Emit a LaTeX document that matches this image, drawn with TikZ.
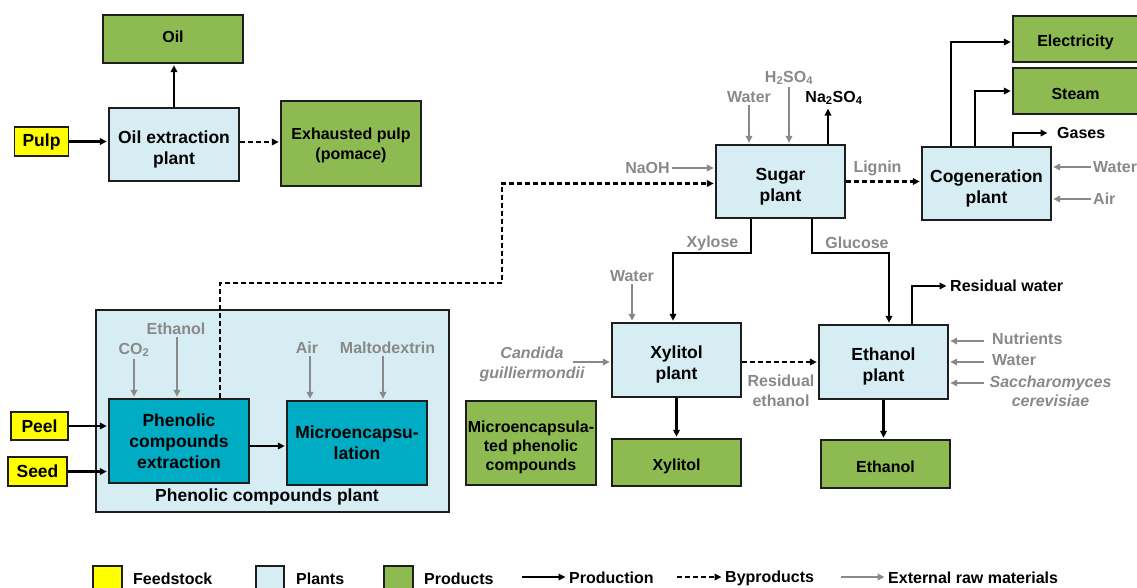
\documentclass[tikz,border=0pt]{standalone}
\usepackage{fontspec}
\setmainfont{Liberation Sans}
\usetikzlibrary{arrows.meta}
\definecolor{feedY}{RGB}{255,255,0}
\definecolor{plantB}{RGB}{215,237,244}
\definecolor{prodG}{RGB}{141,187,82}
\definecolor{tealB}{RGB}{0,171,196}
\definecolor{extG}{RGB}{137,137,137}
\definecolor{edgeC}{RGB}{30,30,30}
\newcommand\figbig{\fontsize{17.5}{21}\selectfont\bfseries}
\newcommand\figmid{\fontsize{16}{19.5}\selectfont\bfseries}
\newcommand\upx[1]{\rule{0pt}{#1}}
\tikzset{
  box/.style={draw=edgeC, line width=1.4pt, inner sep=0pt, align=center},
  feed/.style={box, fill=feedY, font=\figbig},
  plantbox/.style={box, fill=plantB, font=\figbig},
  unitbox/.style={box, fill=tealB, font=\figbig},
  prod/.style={box, fill=prodG, font=\figmid},
  lab/.style={text=extG, font=\figmid, inner sep=2pt, align=center},
  blab/.style={text=black, font=\figmid, inner sep=2pt, align=center},
  prodarr/.style={draw=black, line width=2.2pt, -{Triangle[length=7pt,width=6.5pt]}, shorten >=1.5pt},
  byarr/.style={prodarr, dash pattern=on 5pt off 3pt},
  extarr/.style={draw=extG, line width=2pt, -{Triangle[length=7pt,width=6.5pt]}, shorten >=1.5pt},
}
\begin{document}
\begin{tikzpicture}[x=1pt,y=-1pt]
\useasboundingbox (0,0) rectangle (1137,587);

% ---------- oil branch ----------
\node[feed, minimum width=54pt, minimum height=29pt] (pulp) at (41.5,141.5) {Pulp};
\node[plantbox, minimum width=130pt, minimum height=73pt] (oilx) at (174,144.5) {\upx{22.5pt}Oil extraction\\plant};
\node[prod, text depth=5pt, minimum width=140pt, minimum height=48pt] (oil) at (173,39) {Oil};
\node[prod, minimum width=140pt, minimum height=85pt] (exh) at (351,143.5) {\upx{15.5pt}Exhausted pulp\\(pomace)};
\draw[prodarr] (oilx.north) -- (oilx.north |- oil.south);
\draw[prodarr] (pulp.east) -- (pulp.east -| oilx.west);
\coordinate (oe) at ([yshift=2.5pt]oilx.east);
\draw[byarr] (oe) -- (oe -| exh.west);

% ---------- sugar and cogeneration ----------
\node[plantbox, minimum width=129pt, minimum height=73pt] (sugar) at (780.5,181.5) {\upx{22.5pt}Sugar\\plant};
\node[plantbox, minimum width=129pt, minimum height=73pt] (cogen) at (986.5,183.5) {\upx{22.5pt}Cogeneration\\plant};
\node[prod, minimum width=125pt, minimum height=46pt] (elec) at (1075.5,39) {\upx{17.5pt}Electricity};
\node[prod, minimum width=125pt, minimum height=46pt] (steam) at (1075.5,91) {\upx{17.5pt}Steam};

\node[lab] (naoh) at (647.5,168) {NaOH};
\node[lab] (wS) at (749,97) {Water};
\node[lab] (h2) at (789,78) {H\textsubscript{2}SO\textsubscript{4}};
\node[blab] (na) at (834,98) {Na\textsubscript{2}SO\textsubscript{4}};
\node[lab] (lig) at (877.5,168) {Lignin};
\node[blab, anchor=west] (gas) at (1055,133) {Gases};
\node[lab, anchor=west] (wC) at (1091,167) {Water};
\node[lab, anchor=west] (airC) at (1091,199) {Air};

\draw[extarr] (naoh.east) -- (naoh.east -| sugar.west);
\draw[extarr] (wS.south) -- (wS.south |- sugar.north);
\draw[extarr] (h2.south) -- (h2.south |- sugar.north);
\coordinate (naB) at ([xshift=-6pt]na.south);
\draw[prodarr] (naB |- sugar.north) -- (naB);
\draw[byarr] (sugar.east) -- (sugar.east -| cogen.west);
\draw[prodarr] ([xshift=-35.5pt]cogen.north) |- ([yshift=-3pt]elec.west);
\draw[prodarr] ([xshift=-11.5pt]cogen.north) |- (steam.west);
\draw[prodarr] ([xshift=26.5pt]cogen.north) |- ([xshift=-6pt]gas.west);
\draw[extarr] (wC.west) -- (wC.west -| cogen.east);
\draw[extarr] (airC.west) -- (airC.west -| cogen.east);

% ---------- xylitol and ethanol ----------
\node[plantbox, minimum width=129pt, minimum height=74pt] (xyl) at (676.5,360) {\upx{22.5pt}Xylitol\\plant};
\node[plantbox, minimum width=129pt, minimum height=74pt] (eth) at (883.5,362) {\upx{21.5pt}Ethanol\\plant};
\node[prod, minimum width=129pt, minimum height=47pt] (xylp) at (676.5,462.5) {\upx{18.5pt}Xylitol};
\node[prod, minimum width=129pt, minimum height=48pt] (ethp) at (885.5,464) {\upx{17.5pt}Ethanol};

\node[lab] (xlab) at (712.5,243) {Xylose};
\node[lab] (glab) at (857,243) {Glucose};
\node[lab] (wX) at (632,276) {Water};
\node[lab, font=\figmid\itshape] (cand) at (532,364.5) {Candida\\guilliermondii};
\node[lab] (reth) at (781,391) {Residual\\ethanol};
\node[blab, anchor=west] (rw) at (948,286) {Residual water};
\node[lab, anchor=west] (nut) at (990,339) {Nutrients};
\node[lab, anchor=west] (wE) at (990,360) {Water};
\node[lab, font=\figmid\itshape] (sac) at (1050.5,391.5) {Saccharomyces\\cerevisiae};

\coordinate (xy) at (673,253);
\draw[prodarr] ([xshift=-29.5pt]sugar.south) |- (xy) -- (xy |- xyl.north);
\coordinate (gl) at (889,253);
\draw[prodarr] ([xshift=31.5pt]sugar.south) |- (gl) -- (gl |- eth.north);
\draw[extarr] (wX.south) -- (wX.south |- xyl.north);
\coordinate (cs) at (573,362);
\draw[extarr] (cs) -- (cs -| xyl.west);
\coordinate (re) at ([yshift=-2pt]xyl.east);
\draw[byarr] (re) -- (re -| eth.west);
\draw[prodarr] ([xshift=28.5pt]eth.north) |- (rw.west);
\coordinate (n1) at (984,341);
\coordinate (n2) at (984,362);
\coordinate (n3) at (984,383);
\draw[extarr] (n1) -- (n1 -| eth.east);
\draw[extarr] (n2) -- (n2 -| eth.east);
\draw[extarr] (n3) -- (n3 -| eth.east);
\draw[prodarr] (xyl.south) -- (xyl.south |- xylp.north);
\draw[prodarr] (eth.south) -- (eth.south |- ethp.north);

% ---------- phenolic compounds plant ----------
\node[box, fill=plantB, minimum width=353pt, minimum height=202pt] (pcp) at (272.5,411) {};
\node[font=\figbig, inner sep=0pt] (pcpl) at (267,497) {Phenolic compounds plant};
\node[unitbox, minimum width=140pt, minimum height=84pt] (ext) at (179,441) {Phenolic\\compounds\\extraction};
\node[unitbox, minimum width=140pt, minimum height=84pt] (mic) at (357,443) {Microencapsu-\\lation};
\node[feed, minimum width=57pt, minimum height=28pt] (peel) at (39.5,426) {Peel};
\node[feed, minimum width=59pt, minimum height=29pt] (seed) at (37.5,471.5) {Seed};
\node[prod, minimum width=130pt, minimum height=84pt, font=\fontsize{16}{19}\selectfont\bfseries] (mpc) at (531,443) {\upx{20.5pt}Microencapsula-\\ted phenolic\\compounds};

\node[lab] (co2) at (134,350) {CO\textsubscript{2}};
\node[lab] (etl) at (176,329) {Ethanol};
\node[lab] (airP) at (307,348) {Air};
\node[lab] (malt) at (387.5,348) {Maltodextrin};

\draw[prodarr] (peel.east) -- (peel.east -| ext.west);
\draw[prodarr] (seed.east) -- (seed.east -| ext.west);
\coordinate (em) at ([yshift=-5pt]ext.east);
\draw[prodarr] (em) -- (em -| mic.west);
\draw[extarr] (co2.south) -- (co2.south |- ext.north);
\draw[extarr] ([xshift=1pt]etl.south) -- ([xshift=1pt]etl.south |- ext.north);
\draw[extarr] ([xshift=3pt]airP.south) -- ([xshift=3pt]airP.south |- mic.north);
\draw[extarr] ([xshift=-4.5pt]malt.south) -- ([xshift=-4.5pt]malt.south |- mic.north);
\coordinate (d1) at (502,283);
\draw[byarr] ([xshift=41pt]ext.north) |- (d1) |- ([yshift=-2pt]sugar.west);

% ---------- legend ----------
\node[box, fill=feedY, minimum width=29pt, minimum height=26pt] (lgF) at (107.5,579) {};
\node[box, fill=plantB, minimum width=28pt, minimum height=26pt] (lgP) at (270,579) {};
\node[box, fill=prodG, minimum width=29pt, minimum height=26pt] (lgG) at (398.5,579) {};
\node[blab, anchor=west] (lgFt) at (131,579) {Feedstock};
\node[blab, anchor=west] (lgPt) at (294,579) {Plants};
\node[blab, anchor=west] (lgGt) at (422,579) {Products};
\node[blab, anchor=west] (lgA) at (567,578) {Production};
\node[blab, anchor=west] (lgB) at (723,578) {Byproducts};
\node[blab, anchor=west] (lgC) at (886,578) {External raw materials};
\coordinate (la) at (522,577);
\coordinate (lb) at (677,577);
\coordinate (lc) at (841,577);
\draw[prodarr] (la) -- (la -| lgA.west);
\draw[byarr] (lb) -- (lb -| lgB.west);
\draw[extarr] (lc) -- (lc -| lgC.west);
\end{tikzpicture}
\end{document}
